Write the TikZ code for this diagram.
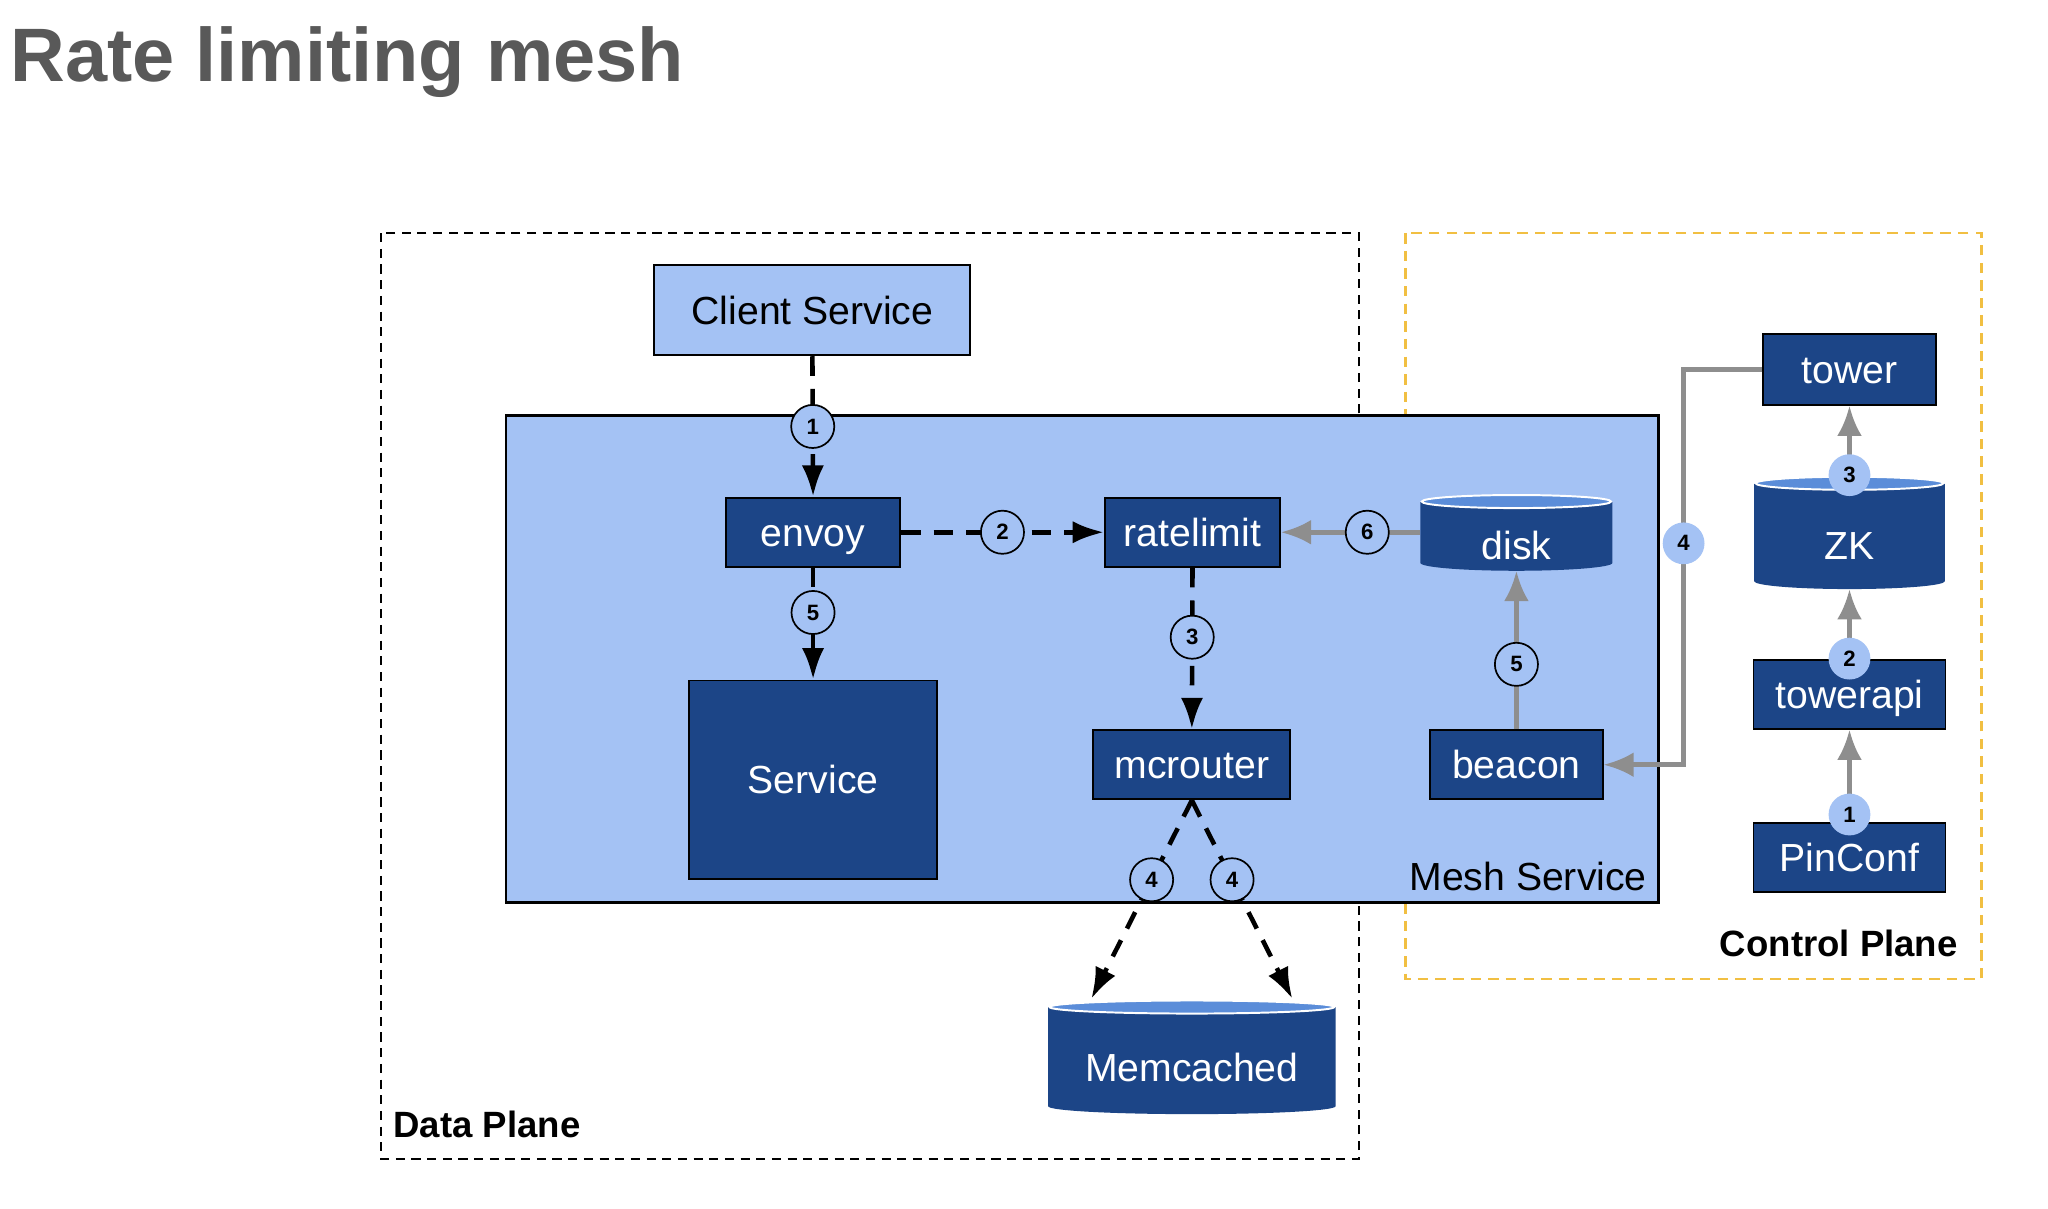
\documentclass[tikz,border=0pt]{standalone}
\usepackage{fontspec}
\setmainfont{Liberation Sans}
\usetikzlibrary{arrows.meta}
\usetikzlibrary{calc}

\definecolor{meshblue}{HTML}{A4C2F4}
\definecolor{dkblue}{HTML}{1C4587}
\definecolor{capblue}{HTML}{5B8DD9}
\definecolor{linegray}{HTML}{8E8E8E}
\definecolor{planeorange}{HTML}{F1BF42}
\definecolor{titlegray}{HTML}{595959}

\newcommand{\titlefont}{\fontsize{58}{64}\selectfont\bfseries}
\newcommand{\boxfont}{\fontsize{30}{36}\selectfont}
\newcommand{\planefont}{\fontsize{28}{34}\selectfont\bfseries}
\newcommand{\badgefont}{\fontsize{17}{20}\selectfont\bfseries}

\begin{document}
\begin{tikzpicture}
[x=1pt,y=-1pt,
 box/.style={rectangle,draw=black,line width=1.5pt,fill=dkblue,text=white,font=\boxfont,inner sep=0pt,
   text height=21.4pt,text depth=0pt},
 lightbox/.style={box,fill=meshblue,text=black},
 store/.style 2 args={rectangle,inner sep=0pt,text=white,font=\boxfont,text height=#1,text depth=#2,
   path picture={
     \fill[dkblue] let \p1=(path picture bounding box.north west), \p2=(path picture bounding box.south east),
       \n1={(\x2-\x1)/2} in
       (\x1,\y1-6pt) -- (\x1,\y2+6pt) arc[start angle=180,end angle=360,x radius=\n1,y radius=6pt]
       -- (\x2,\y1-6pt) -- cycle;
     \filldraw[fill=capblue,draw=white,line width=1.5pt] let \p1=(path picture bounding box.north west),
       \p2=(path picture bounding box.south east), \n1={(\x2-\x1)/2}, \n2={(\x2-\x1)/2-1pt} in
       (\x1+\n1,\y1-6pt) ellipse[x radius=\n2,y radius=5pt];
   }},
 label/.style={inner sep=0pt},
 badge/.style={circle,draw=black,line width=1.3pt,fill=meshblue,minimum size=33pt,inner sep=0pt,font=\badgefont,solid},
 cbadge/.style={circle,fill=meshblue,minimum size=32pt,inner sep=0pt,font=\badgefont},
 flow/.style={line width=3.5pt,dash pattern=on 15pt off 10pt,-{Latex[length=24pt,width=17pt]}},
 cflow/.style={line width=3.5pt,draw=linegray,-{Latex[length=23pt,width=19pt]}}]

  \useasboundingbox[fill=white] (0,0) rectangle (1568,925);

  \node[label,anchor=base west,text=titlegray,font=\titlefont] (title) at (8,62.5) {Rate limiting mesh};

  % planes
  \draw[line width=1.5pt,dash pattern=on 7pt off 5pt] (291.5,178.5) rectangle (1040.5,887);
  \draw[planeorange,line width=2pt,dash pattern=on 8pt off 5.5pt] (1076,178.5) rectangle (1517,749.5);
  \draw[line width=2pt,fill=meshblue] (387.5,318) rectangle (1270,691);

  \node[label,anchor=base west,font=\planefont] (dataplane) at (301,871) {Data Plane};
  \node[label,anchor=base east,font=\planefont] (ctrlplane) at (1499,732) {Control Plane};
  \node[label,anchor=base east,font=\boxfont] (meshservice) at (1261,682) {Mesh Service};

  % data plane
  \node[lightbox,minimum width=242pt,minimum height=69pt] (client) at (622,237.5) {Client Service};
  \node[box,minimum width=133pt,minimum height=53pt] (envoy) at (622.5,407.5) {envoy};
  \node[box,minimum width=134pt,minimum height=53pt] (ratelimit) at (913,407.5) {ratelimit};
  \node[store={50.7pt}{8.3pt},minimum width=147pt] (disk) at (1161,407.5) {disk};
  \node[box,minimum width=190pt,minimum height=152pt] (service) at (622.5,597) {Service};
  \node[box,minimum width=151pt,minimum height=53pt] (mcrouter) at (912.5,585.5) {mcrouter};
  \node[box,minimum width=132pt,minimum height=53pt] (beacon) at (1161,585.5) {beacon};
  \node[store={63pt}{25pt},minimum width=220pt] (memcached) at (912.5,809) {Memcached};

  % control plane
  \node[box,minimum width=132pt,minimum height=54pt] (tower) at (1416,283) {tower};
  \node[store={64pt}{23pt},minimum width=146pt] (zk) at (1416,407.5) {ZK};
  \node[box,minimum width=147pt,minimum height=53pt] (towerapi) at (1416,531.5) {towerapi};
  \node[box,minimum width=147pt,minimum height=53pt] (pinconf) at (1416,656.5) {PinConf};

  \foreach \from/\to/\num/\p in {client/envoy/1/0.5, envoy/service/5/0.4, ratelimit/mcrouter/3/0.43}
    \draw[flow] (\from.south) -- node[badge,pos=\p] {\num} (\to.north);
  \draw[flow] (envoy.east) -- node[badge] {2} (ratelimit.west);
  \draw[flow,dash pattern=on 14pt off 10pt] (mcrouter.south) -- node[badge,pos=0.4] {4} ([xshift=-77pt]memcached.north);
  \draw[flow,dash pattern=on 14pt off 10pt] (mcrouter.south) -- node[badge,pos=0.4] {4} ([xshift=77pt]memcached.north);

  \draw[cflow] (disk.west) -- node[badge,pos=0.38] {6} (ratelimit.east);
  \draw[cflow] (beacon.north) -- node[badge,pos=0.41] {5} (disk.south);

  \coordinate (bend) at (1289,416);
  \draw[cflow] (tower.west) -| (bend) node[cbadge] {4} |- (beacon.east);
  \foreach \from/\to/\num/\p in {zk/tower/3/0, towerapi/zk/2/0, pinconf/towerapi/1/0.08}
    \draw[cflow] (\from.north) -- node[cbadge,pos=\p] {\num} (\to.south);

\end{tikzpicture}
\end{document}
